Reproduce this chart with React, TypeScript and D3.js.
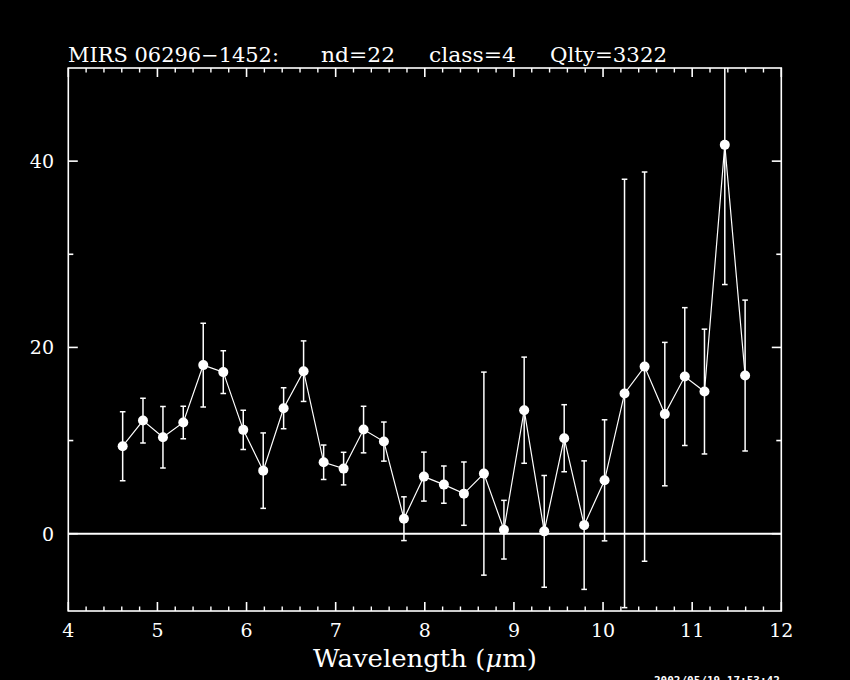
import React from "react";
import * as d3 from "d3";

const wavelengths = [4.61, 4.838, 5.062, 5.29, 5.514, 5.739, 5.963, 6.187, 6.416, 6.64, 6.865, 7.089, 7.313, 7.541, 7.766, 7.99, 8.214, 8.439, 8.663, 8.888, 9.115, 9.34, 9.564, 9.788, 10.017, 10.241, 10.466, 10.693, 10.917, 11.138, 11.366, 11.594];
const fluxes = [9.39, 12.15, 10.36, 11.94, 18.1, 17.35, 11.15, 6.77, 13.47, 17.45, 7.67, 6.99, 11.18, 9.89, 1.61, 6.13, 5.27, 4.3, 6.45, 0.43, 13.26, 0.25, 10.25, 0.92, 5.73, 15.06, 17.94, 12.84, 16.87, 15.26, 41.75, 16.98];
const errors = [3.7, 2.4, 3.3, 1.75, 4.5, 2.3, 2.1, 4.05, 2.2, 3.25, 1.85, 1.75, 2.5, 2.1, 2.35, 2.63, 2.0, 3.4, 10.9, 3.15, 5.7, 6.0, 3.6, 6.9, 6.5, 23.0, 20.9, 7.7, 7.4, 6.7, 15.0, 8.1];

const xMajorTicks = [4, 5, 6, 7, 8, 9, 10, 11, 12];
const yMajorTicks = [0, 20, 40];
const yMinorTicks = [10, 30];
const titleParts = ["MIRS 06296\u22121452:", "nd=22", "class=4", "Qlty=3322"];
const xTitle = "Wavelength (";
const timestamp = "2002/05/19 17:53:42";

const W = 850, H = 680;
const L = 68.3, R = 781.3, T = 68, B = 611;

export default function App() {
  const x = d3.scaleLinear().domain([4, 12]).range([L, R]);
  const y = d3.scaleLinear().domain([-8.3, 50]).range([B, T]);
  const xMinor = d3.range(4, 12.001, 0.2).map((v) => Math.round(v * 10) / 10).filter((v) => Math.abs(v - Math.round(v)) > 1e-6);
  const pts = wavelengths.map((w, i) => ({ w, f: fluxes[i], e: errors[i] }));
  const line = d3.line<any>().x((d) => x(d.w)).y((d) => y(d.f));
  const font = "'DejaVu Serif', serif";
  const titleX = [68, 321, 429, 550];
  const titleLen = [211, 74, 87, 117];
  return (
    <svg width={W} height={H} style={{ position: "absolute", left: 0, top: 0, background: "#000" }}>
      <rect x={0} y={0} width={W} height={H} fill="#000" />
      <defs>
        <clipPath id="plot">
          <rect x={L} y={T} width={R - L} height={B - T} />
        </clipPath>
      </defs>
      {titleParts.map((t, i) => (
        <text key={i} x={titleX[i]} y={62} fill="#fff" fontFamily={font} fontSize={20.5} textLength={titleLen[i]} lengthAdjust="spacingAndGlyphs">{t}</text>
      ))}
      <rect x={L} y={T} width={R - L} height={B - T} fill="none" stroke="#fff" strokeWidth={1.6} />
      {xMajorTicks.map((v) => (
        <g key={"xm" + v}>
          <line x1={x(v)} x2={x(v)} y1={B} y2={B - 9} stroke="#fff" strokeWidth={1.6} />
          <line x1={x(v)} x2={x(v)} y1={T} y2={T + 9} stroke="#fff" strokeWidth={1.6} />
          <text x={x(v)} y={637} fill="#fff" fontFamily={font} fontSize={19} textAnchor="middle">{v}</text>
        </g>
      ))}
      {xMinor.map((v) => (
        <g key={"xn" + v}>
          <line x1={x(v)} x2={x(v)} y1={B} y2={B - 4.5} stroke="#fff" strokeWidth={1.4} />
          <line x1={x(v)} x2={x(v)} y1={T} y2={T + 4.5} stroke="#fff" strokeWidth={1.4} />
        </g>
      ))}
      {yMajorTicks.map((v) => (
        <g key={"ym" + v}>
          <line x1={L} x2={L + 9.5} y1={y(v)} y2={y(v)} stroke="#fff" strokeWidth={1.6} />
          <line x1={R} x2={R - 9.5} y1={y(v)} y2={y(v)} stroke="#fff" strokeWidth={1.6} />
          <text x={54} y={y(v) + 7} fill="#fff" fontFamily={font} fontSize={19} textAnchor="end">{v}</text>
        </g>
      ))}
      {yMinorTicks.map((v) => (
        <g key={"yn" + v}>
          <line x1={L} x2={L + 5} y1={y(v)} y2={y(v)} stroke="#fff" strokeWidth={1.6} />
          <line x1={R} x2={R - 5} y1={y(v)} y2={y(v)} stroke="#fff" strokeWidth={1.6} />
        </g>
      ))}
      <line x1={L} x2={R} y1={y(0)} y2={y(0)} stroke="#fff" strokeWidth={2} />
      <g clipPath="url(#plot)">
        {pts.map((d, i) => (
          <g key={"e" + i}>
            <line x1={x(d.w)} x2={x(d.w)} y1={y(d.f - d.e)} y2={y(d.f + d.e)} stroke="#fff" strokeWidth={1.5} />
            <line x1={x(d.w) - 2.8} x2={x(d.w) + 2.8} y1={y(d.f - d.e)} y2={y(d.f - d.e)} stroke="#fff" strokeWidth={1.5} />
            <line x1={x(d.w) - 2.8} x2={x(d.w) + 2.8} y1={y(d.f + d.e)} y2={y(d.f + d.e)} stroke="#fff" strokeWidth={1.5} />
          </g>
        ))}
        <path d={line(pts) || ""} fill="none" stroke="#fff" strokeWidth={1.2} />
        {pts.map((d, i) => (
          <circle key={"c" + i} cx={x(d.w)} cy={y(d.f)} r={5} fill="#fff" />
        ))}
      </g>
      <text x={425} y={667} fill="#fff" fontFamily={font} fontSize={24} textAnchor="middle" textLength={224} lengthAdjust="spacingAndGlyphs">
        {xTitle}
        <tspan fontStyle="italic">{"\u03bc"}</tspan>
        {"m)"}
      </text>
      <text x={654} y={684} fill="#fff" fontFamily="'DejaVu Sans Mono', monospace" fontWeight="bold" fontSize={11}>{timestamp}</text>
    </svg>
  );
}
